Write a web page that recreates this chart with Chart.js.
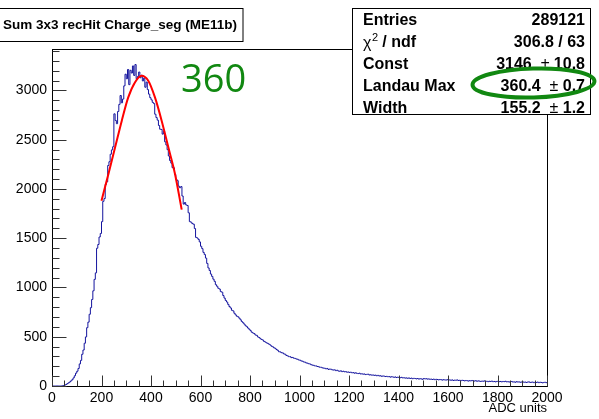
<!DOCTYPE html>
<html>
<head>
<meta charset="utf-8">
<title>Sum 3x3 recHit Charge_seg (ME11b)</title>
<script src="https://cdn.jsdelivr.net/npm/chart.js@4.4.0/dist/chart.umd.min.js"></script>
<style>
  html, body { margin: 0; padding: 0; background: #fff; }
  canvas { display: block; }
</style>
</head>
<body>
<canvas id="c" width="599" height="419"></canvas>
<script>
// histogram binning: 400 bins of 5 ADC counts over 0..2000
const binWidth = 5
const xMin = 0
const xMax = 2000
const yMax = 3420

// bin contents, one row per 100 ADC units
const binCounts = [
   0, 0, 0, 0, 0, 0, 0, 0, 1, 4, 9, 15, 24, 32, 41, 52, 64, 82, 104, 130,
   150, 178, 224, 260, 322, 365, 434, 498, 592, 648, 728, 795, 878, 966, 1082, 1148, 1398, 1436, 1512, 1548,
   1668, 1874, 1902, 2046, 2072, 2238, 2276, 2352, 2396, 2428, 2762, 2694, 2662, 2786, 2858, 2948, 2874, 2912, 3046, 3164,
   3118, 3212, 3058, 3204, 3176, 3248, 3152, 3262, 3118, 3142, 3186, 3128, 3154, 3096, 3124, 3032, 3084, 3008, 2962, 2926,
   2904, 2878, 2866, 2758, 2724, 2698, 2644, 2606, 2604, 2556, 2586, 2478, 2446, 2398, 2334, 2288, 2262, 2216, 2214, 2146,
   2098, 2084, 2028, 2012, 2024, 1928, 1846, 1862, 1838, 1832, 1758, 1668, 1662, 1648, 1642, 1598, 1508, 1502, 1488, 1462,
   1418, 1394, 1356, 1334, 1298, 1244, 1198, 1172, 1136, 1112, 1084, 1062, 1028, 1012, 992, 984, 958, 952, 918, 892,
   868, 852, 828, 806, 792, 768, 762, 738, 722, 708, 702, 688, 672, 654, 642, 628, 612, 602, 588, 576,
   562, 546, 538, 532, 518, 514, 498, 492, 480, 472, 466, 452, 446, 438, 432, 424, 416, 404, 398, 388,
   382, 370, 362, 348, 346, 338, 336, 326, 322, 310, 306, 298, 298, 288, 290, 282, 280, 274, 272, 264,
   262, 254, 252, 244, 242, 234, 232, 226, 224, 216, 212, 210, 204, 204, 198, 196, 190, 190, 184, 182,
   180, 174, 178, 168, 172, 170, 164, 162, 164, 156, 160, 152, 150, 154, 146, 150, 144, 146, 140, 142,
   138, 140, 134, 136, 130, 134, 128, 126, 130, 122, 124, 120, 122, 116, 118, 120, 112, 114, 110, 112,
   108, 110, 104, 108, 102, 104, 98, 102, 100, 96, 98, 94, 96, 90, 94, 92, 88, 92, 86, 90,
   86, 84, 88, 82, 84, 80, 82, 78, 82, 76, 80, 74, 78, 76, 72, 76, 70, 74, 72, 68,
   76, 72, 74, 70, 72, 68, 70, 66, 70, 64, 68, 66, 62, 66, 64, 60, 64, 62, 60, 64,
   60, 62, 58, 62, 56, 60, 58, 62, 56, 58, 54, 58, 56, 52, 56, 54, 50, 54, 52, 56,
   52, 50, 54, 48, 52, 50, 46, 50, 48, 52, 46, 48, 44, 48, 46, 50, 44, 46, 42, 46,
   48, 44, 46, 42, 46, 44, 48, 42, 44, 40, 44, 46, 40, 42, 38, 44, 40, 42, 38, 40,
   42, 38, 40, 36, 40, 42, 36, 38, 40, 34, 38, 36, 40, 34, 38, 36, 32, 36, 38, 34,
]

// landau fit curve, sampled over the fit range
const fitX = [ 200, 228, 255, 282, 308, 335, 362, 389, 416, 443, 470, 497, 524 ]
const fitY = [ 1881, 2152, 2422, 2693, 2929, 3081, 3149, 3098, 2929, 2693, 2422, 2152, 1790 ]

// axis labels and divisions
const xTickLabels = [ 0, 200, 400, 600, 800, 1000, 1200, 1400, 1600, 1800, 2000 ]
const yTickLabels = [ 0, 500, 1000, 1500, 2000, 2500, 3000 ]
const xMajorStep = 200
const xMinorStep = 50
const yMajorStep = 500
const yMinorStep = 100

// stats box
const statLabels = [ 'Entries', 'chi2', 'Const', 'Landau Max', 'Width' ]
const statValues = [ '289121', '306.8 / 63', '3146', '360.4', '155.2' ]
const statErrors = [ null, null, '10.8', '0.7', '1.2' ]

const histTitle = 'Sum 3x3 recHit Charge_seg (ME11b)'
const peakNote = '360'

const FONT = '"Liberation Sans", Arial, Helvetica, sans-serif'
const GREEN = '#118811'
const HIST_BLUE = '#14149e'

const histPoints = binCounts.map( ( c, i ) => ( { x: xMin + i * binWidth, y: c } ) )
histPoints.push( { x: xMax, y: binCounts[ binCounts.length - 1 ] } )

const fitPoints = fitX.map( ( x, i ) => ( { x, y: fitY[ i ] } ) )

function drawFrame( chart ) {
   const { ctx, chartArea: a, scales } = chart
   const left = Math.round( a.left ) + 0.5
   const right = Math.round( a.right ) + 0.5
   const top = Math.round( a.top ) + 0.5
   const bottom = Math.round( a.bottom ) + 0.5

   ctx.save()
   ctx.lineWidth = 1
   ctx.strokeStyle = '#000'
   ctx.strokeRect( left, top, right - left, bottom - top )

   // ticks point into the frame, ROOT style
   ctx.strokeStyle = '#333'
   ctx.beginPath()
   for ( let v = xMin; v <= xMax; v += xMinorStep ) {
      const px = Math.round( scales.x.getPixelForValue( v ) ) + 0.5
      const len = v % xMajorStep === 0 ? 11 : 6
      ctx.moveTo( px, bottom )
      ctx.lineTo( px, bottom - len )
   }
   for ( let v = 0; v <= yMax; v += yMinorStep ) {
      const py = Math.round( scales.y.getPixelForValue( v ) ) + 0.5
      const len = v % yMajorStep === 0 ? 14 : 7
      ctx.moveTo( left, py )
      ctx.lineTo( left + len, py )
   }
   ctx.stroke()
   ctx.restore()
}

function drawTitleBox( ctx ) {
   ctx.save()
   ctx.fillStyle = '#fff'
   ctx.fillRect( -1, 8.5, 244, 33 )
   ctx.strokeStyle = '#000'
   ctx.lineWidth = 1
   ctx.strokeRect( -1, 8.5, 244, 33 )
   ctx.fillStyle = '#000'
   ctx.font = `bold 13.5px ${FONT}`
   ctx.textBaseline = 'middle'
   ctx.fillText( histTitle, 3, 25.5 )
   ctx.restore()
}

// right-aligned run of text pieces with their own fonts
function drawRun( ctx, pieces, rightX, y ) {
   let width = 0
   pieces.forEach( ( p ) => {
      ctx.font = p.font
      p.w = ctx.measureText( p.text ).width
      width += p.w
   } )
   let x = rightX - width
   pieces.forEach( ( p ) => {
      ctx.font = p.font
      ctx.fillText( p.text, x, y + ( p.dy || 0 ) )
      x += p.w
   } )
}

function drawStats( ctx ) {
   const box = { x: 352.5, y: 8.5, w: 238, h: 106 }
   const bold = `bold 16px ${FONT}`
   const plain = `16px ${FONT}`

   ctx.save()
   ctx.fillStyle = '#fff'
   ctx.fillRect( box.x, box.y, box.w, box.h )
   ctx.strokeStyle = '#000'
   ctx.lineWidth = 1
   ctx.strokeRect( box.x, box.y, box.w, box.h )

   ctx.fillStyle = '#000'
   ctx.textBaseline = 'middle'
   statLabels.forEach( ( label, i ) => {
      const y = 20.5 + i * 22

      if ( label === 'chi2' ) {
         ctx.font = plain
         ctx.fillText( 'χ', 363, y + 1 )
         const cw = ctx.measureText( 'χ' ).width
         ctx.font = `11px ${FONT}`
         ctx.fillText( '2', 363 + cw + 0.5, y - 5 )
         ctx.font = bold
         ctx.fillText( ' / ndf', 363 + cw + 6.5, y )
      }
      else {
         ctx.font = bold
         ctx.fillText( label, 363, y )
      }

      const pieces = [ { text: statValues[ i ], font: bold } ]
      if ( statErrors[ i ] ) {
         pieces.push( { text: '  \u00b1 ', font: plain } )
         pieces.push( { text: statErrors[ i ], font: bold } )
      }
      drawRun( ctx, pieces, 585, y )
   } )
   ctx.restore()
}

function drawNotes( ctx ) {
   ctx.save()
   ctx.fillStyle = GREEN
   ctx.font = `38px "Open Sans", ${FONT}`
   ctx.textBaseline = 'alphabetic'
   ctx.fillText( peakNote, 181, 92 )

   ctx.strokeStyle = GREEN
   ctx.lineWidth = 4
   ctx.beginPath()
   ctx.ellipse( 533.5, 83, 61, 14.5, -0.03, 0, Math.PI * 2 )
   ctx.stroke()
   ctx.restore()
}

const rootStyle = {
   id: 'root_style',
   beforeDraw( chart ) {
      const { ctx } = chart
      ctx.save()
      ctx.fillStyle = '#fff'
      ctx.fillRect( 0, 0, chart.width, chart.height )
      ctx.restore()
   },
   afterDraw( chart ) {
      const { ctx } = chart
      drawFrame( chart )
      drawTitleBox( ctx )
      drawStats( ctx )
      drawNotes( ctx )
   },
}

new Chart( document.getElementById( 'c' ), {
   type: 'line',
   data: {
      datasets: [
         {
            data: histPoints,
            borderColor: HIST_BLUE,
            borderWidth: 1,
            stepped: 'before',
            pointRadius: 0,
            fill: false,
            order: 2,
         },
         {
            data: fitPoints,
            borderColor: '#ff0000',
            borderWidth: 2,
            cubicInterpolationMode: 'monotone',
            pointRadius: 0,
            fill: false,
            order: 1,
         },
      ],
   },
   options: {
      responsive: false,
      animation: false,
      devicePixelRatio: 1,
      events: [],
      parsing: false,
      layout: {
         padding: { left: 0, top: 49, right: 52, bottom: 0 },
      },
      plugins: {
         legend: { display: false },
         tooltip: { enabled: false },
         title: { display: false },
      },
      scales: {
         x: {
            type: 'linear',
            min: xMin,
            max: xMax,
            grid: { display: false, drawTicks: false },
            border: { display: false },
            afterBuildTicks( scale ) {
               scale.ticks = xTickLabels.map( ( value ) => ( { value } ) )
            },
            ticks: {
               color: '#000',
               padding: 4,
               maxRotation: 0,
               autoSkip: false,
               font: { family: FONT, size: 14 },
               callback: ( v ) => String( v ),
            },
            title: {
               display: true,
               text: 'ADC units',
               align: 'end',
               color: '#000',
               padding: { top: 0, bottom: 3 },
               font: { family: FONT, size: 13 },
            },
            afterFit( scale ) {
               scale.height = 33
            },
         },
         y: {
            type: 'linear',
            min: 0,
            max: yMax,
            grid: { display: false, drawTicks: false },
            border: { display: false },
            afterBuildTicks( scale ) {
               scale.ticks = yTickLabels.map( ( value ) => ( { value } ) )
            },
            ticks: {
               color: '#000',
               padding: 5,
               autoSkip: false,
               font: { family: FONT, size: 14 },
               callback: ( v ) => String( v ),
            },
            afterFit( scale ) {
               scale.width = 52
            },
         },
      },
   },
   plugins: [ rootStyle ],
} )
</script>
</body>
</html>
